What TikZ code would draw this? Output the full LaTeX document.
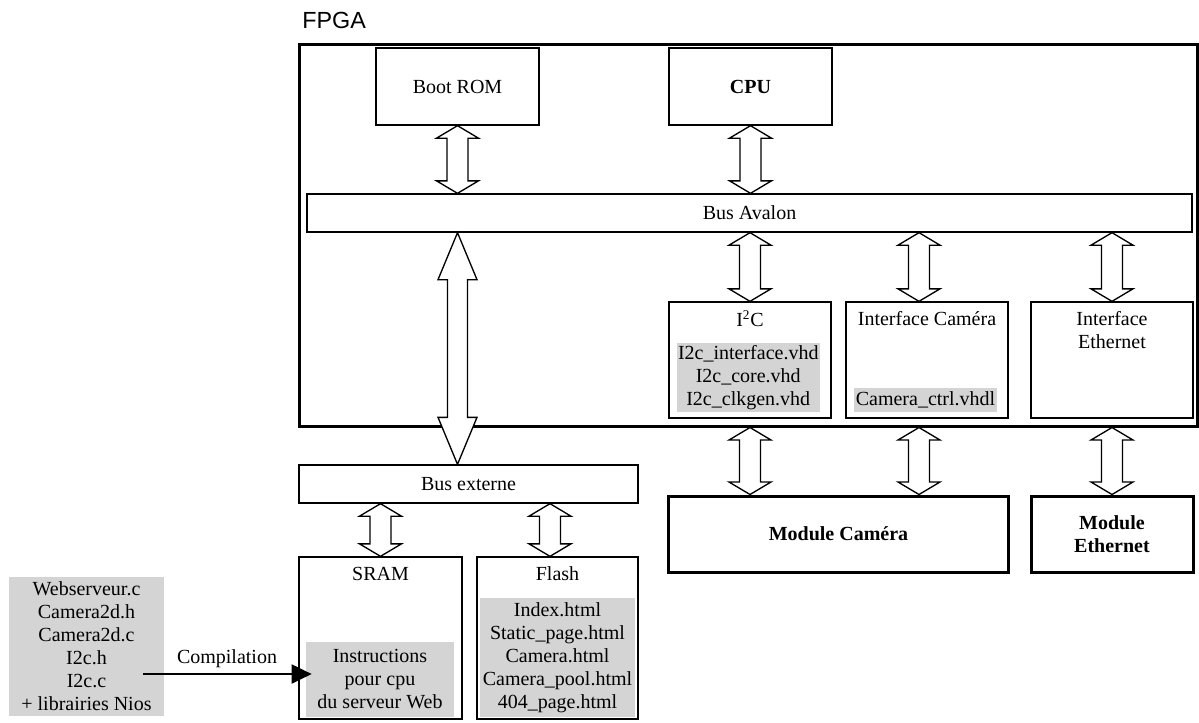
\documentclass[tikz,border=0pt]{standalone}
\usepackage{fontspec}
\setmainfont{Liberation Serif}
\newfontfamily\arialfont{Liberation Sans}
\usetikzlibrary{calc,arrows.meta}
\definecolor{filegray}{RGB}{212,212,212}
\newcommand\tf{\fontsize{12}{13.8}\selectfont}
\tikzset{
 every node/.style={font=\tf},
 box/.style={draw, line width=0.8pt, inner sep=0pt, align=center},
 thickbox/.style={draw, line width=1.8pt, inner sep=0pt, align=center, font=\tf\bfseries},
 wh/.style 2 args={minimum width=#1*0.6pt, minimum height=#2*0.6pt},
 files/.style={fill=filegray, inner sep=0pt, align=center},
 lbl/.style={inner sep=0pt, align=center},
 dbl/.style={draw, fill=white, line width=0.8pt, line join=miter},
}
\newcommand\dblarrow[5]{%
 \draw[dbl] let \p1=(#1), \p2=(#2) in (\x1,\y1) -- (\x1+#3,\y1-#5) -- (\x1+#4,\y1-#5) -- (\x1+#4,\y2+#5) -- (\x1+#3,\y2+#5) -- (\x1,\y2) -- (\x1-#3,\y2+#5) -- (\x1-#4,\y2+#5) -- (\x1-#4,\y1-#5) -- (\x1-#3,\y1-#5) -- cycle;}
\begin{document}
\begin{tikzpicture}[x=0.6pt,y=-0.6pt]
\useasboundingbox (0,0) rectangle (1199,722);
% FPGA
\node[lbl, anchor=base west, font=\arialfont\fontsize{14}{16}\selectfont] (fpgal) at (302,28) {FPGA};
\node[box, line width=1.8pt, wh={898}{382}] (fpga) at (748,235) {};
\node[box, wh={163}{77}] (boot) at (457.5,86.5) {Boot ROM};
\node[box, wh={163}{77}, font=\tf\bfseries] (cpu) at (750.5,86.5) {CPU};
\node[box, wh={885}{38}] (avalon) at (749.5,213) {Bus Avalon};
\node[box, wh={162}{116}] (i2c) at (750,360) {};
\node[box, wh={162}{116}] (icam) at (927,360) {};
\node[box, wh={162}{116}] (ieth) at (1112,360) {};
\node[lbl] (i2cl) at (750,319) {I\textsuperscript{2}C};
\node[lbl] (icaml) at (927,319) {Interface Caméra};
\node[lbl] (iethl) at (1112,330.5) {Interface\\Ethernet};
\node[files, wh={143.5}{69}] (i2cf) at (748.25,377.5) {I2c\_interface.vhd\\I2c\_core.vhd\\I2c\_clkgen.vhd};
\node[files, wh={143}{24}] (camf) at (925.5,400) {Camera\_ctrl.vhdl};
% modules
\node[thickbox, wh={340}{76}] (mcam) at (838.5,534) {Module Caméra};
\node[thickbox, wh={162}{76}] (meth) at (1112,534) {Module\\Ethernet};
% external bus and memories
\node[box, wh={339}{38}] (bext) at (468.5,484) {Bus externe};
\node[box, wh={163}{162}] (sram) at (380.5,638) {};
\node[box, wh={161}{162}] (flash) at (557.5,638) {};
\node[lbl] (sraml) at (380.5,574) {SRAM};
\node[lbl] (flashl) at (557.5,574) {Flash};
\node[files, wh={148}{75}] (instr) at (380,679.5) {Instructions\\pour cpu\\du serveur Web};
\node[files, wh={155}{119}] (flashf) at (557.5,657.5) {Index.html\\Static\_page.html\\Camera.html\\Camera\_pool.html\\404\_page.html};
% sources
\node[files, wh={155}{139}] (src) at (86.5,646.5) {Webserveur.c\\Camera2d.h\\Camera2d.c\\I2c.h\\I2c.c\\+ librairies Nios};
\coordinate (cstart) at (143,674);
\draw[line width=1.2pt, -{Triangle[length=12pt,width=11.4pt]}] (cstart) -- ([xshift=3.6pt]instr.west |- cstart);
\node[lbl] (compl) at (227,659) {Compilation};
% arrows
\coordinate (camx) at ($(icam.north)+(-8,0)$);
\coordinate (flx) at ($(flash.north)+(-7.5,0)$);
\dblarrow{boot.south}{boot.south |- avalon.north}{12.6pt}{6.3pt}{7.5pt}
\dblarrow{cpu.south}{cpu.south |- avalon.north}{12.6pt}{6.3pt}{7.5pt}
\dblarrow{i2c.north |- avalon.south}{i2c.north}{12.6pt}{6.3pt}{7.5pt}
\dblarrow{camx |- avalon.south}{camx}{12.6pt}{6.3pt}{7.5pt}
\dblarrow{ieth.north |- avalon.south}{ieth.north}{12.6pt}{6.3pt}{7.5pt}
\dblarrow{i2c.south |- fpga.south}{i2c.south |- mcam.north}{12.6pt}{6.3pt}{7.5pt}
\dblarrow{camx |- fpga.south}{camx |- mcam.north}{12.6pt}{6.3pt}{7.5pt}
\dblarrow{ieth.south |- fpga.south}{ieth.south |- meth.north}{12.6pt}{6.3pt}{7.5pt}
\dblarrow{boot.south |- avalon.south}{boot.south |- bext.north}{11.7pt}{6pt}{28.2pt}
\dblarrow{sram.north |- bext.south}{sram.north}{12.6pt}{6.3pt}{7.5pt}
\dblarrow{flx |- bext.south}{flx}{12.6pt}{6.3pt}{7.5pt}
\end{tikzpicture}
\end{document}
